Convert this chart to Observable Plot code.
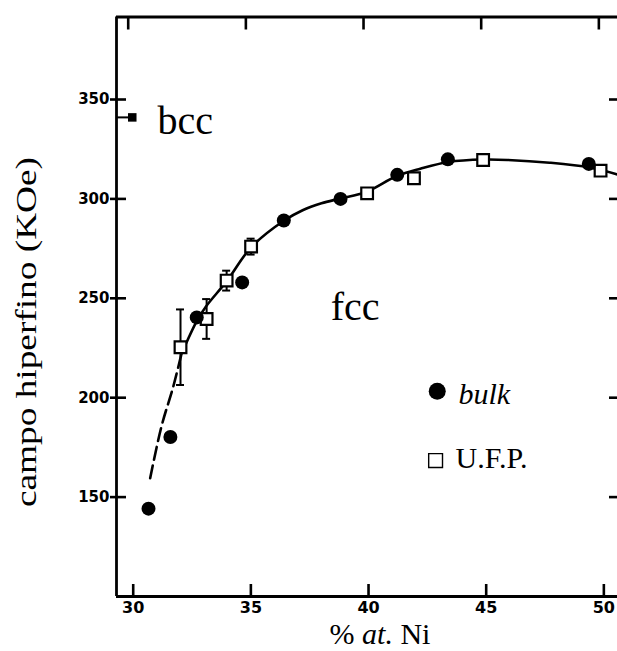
<!DOCTYPE html>
<html>
<head>
<meta charset="utf-8">
<script src="https://cdn.jsdelivr.net/npm/d3@7"></script>
<script src="https://cdn.jsdelivr.net/npm/@observablehq/plot@0.6"></script>
<style>
  body { margin: 0; background: #fff; }
  svg { display: block; }
</style>
</head>
<body>
<div id="chart"></div>
<script>
// Hyperfine field of Fe–Ni alloys versus nickel content

// bulk samples (filled circles)
const bulkNi    = [30.65, 31.58, 32.7, 34.63, 36.4, 38.81, 41.22, 43.37, 49.36];
const bulkField = [144.2, 180.2, 240.4, 258.0, 289.1, 300.0, 312.1, 319.9, 317.6];

// ultra-fine particles (open squares) with error half-widths
const ufpNi     = [32.01, 33.12, 33.97, 35.01, 39.94, 41.93, 44.87, 49.86];
const ufpField  = [225.4, 239.6, 258.9, 276.0, 302.8, 310.4, 319.6, 314.2];
const ufpError  = [19, 10, 5, 4, 0, 0, 0, 0];

// guide curve: dashed low-Ni part, solid part
const fitDashNi    = [30.72, 31.2, 31.7, 32.05];
const fitDashField = [159.5, 185.5, 205.5, 222];
const fitNi    = [32.05, 32.7, 33.1, 34.0, 35.0, 36.4, 37.2, 38.0, 38.8, 39.9, 41.2, 42.2, 43.4, 44.9, 45.9, 47.7, 49.4, 50.58];
const fitField = [222, 238.5, 246, 259, 275.5, 289, 294.3, 297.8, 300.2, 303.5, 311.5, 315.2, 318.6, 319.8, 319.6, 318.2, 315.8, 312.3];

// bcc reference value
const bccNi = [29.96];
const bccField = [341];

// axes
const xDomain = [29.29, 50.58];
const yDomain = [100, 391.5];
const xTicks = [30, 35, 40, 45, 50];
const yTicks = [150, 200, 250, 300, 350];

// annotation anchors (data units)
const phaseLabels = [
  {text: "bcc", x: 31.03, y: 332.8},
  {text: "fcc", x: 38.39, y: 239.3}
];
const legendBulk = [{text: "bulk", x: 42.92, y: 203.2, tx: 43.82, ty: 197.0}];
const legendUfp  = [{text: "U.F.P.", x: 42.85, y: 168.4, tx: 43.70, ty: 164.8}];

const bulk = bulkNi.map((x, i) => ({x, y: bulkField[i]}));
const ufp = ufpNi.map((x, i) => ({x, y: ufpField[i], e: ufpError[i]}));
const ufpBars = ufp.filter(d => d.e > 0);
const fitDash = fitDashNi.map((x, i) => ({x, y: fitDashField[i]}));
const fit = fitNi.map((x, i) => ({x, y: fitField[i]}));
const bcc = bccNi.map((x, i) => ({x, y: bccField[i]}));

const serif = "'Liberation Serif', 'Times New Roman', serif";
const tickFont = "'DejaVu Sans', sans-serif";
const lw = 2.6;

const chart = Plot.plot({
  width: 617,
  height: 651,
  marginLeft: 116,
  marginRight: 0,
  marginTop: 16.5,
  marginBottom: 55,
  x: {domain: xDomain},
  y: {domain: yDomain},
  style: {background: "#fff", color: "#000", fontFamily: tickFont},
  marks: [
    // frame (left, top, bottom)
    Plot.ruleX([xDomain[0]], {stroke: "#000", strokeWidth: 2.8}),
    Plot.ruleY([yDomain[0]], {stroke: "#000", strokeWidth: 2.8}),
    Plot.ruleY([yDomain[1]], {stroke: "#000", strokeWidth: 2.8}),

    // y axis: labels with short outward tick, plus inward tick
    Plot.axisY({ticks: yTicks, tickSize: 6, tickPadding: 1, label: null, fontSize: 15, fontWeight: "bold", strokeWidth: lw}),
    Plot.axisY({ticks: yTicks, tickSize: -10, text: null, label: null, strokeWidth: lw}),
    Plot.axisY({anchor: "right", ticks: yTicks, tickSize: -9, text: null, label: null, strokeWidth: lw}),

    // x axis: labels below, inward ticks bottom and top
    Plot.axisX({ticks: xTicks, tickSize: 0, tickPadding: 5, label: null, fontSize: 16, fontWeight: "bold"}),
    Plot.axisX({ticks: xTicks, tickSize: -12, text: null, label: null, strokeWidth: lw}),
    Plot.axisX({anchor: "top", ticks: xTicks, tickSize: -12, text: null, label: null, strokeWidth: lw, dx: -5}),

    // guide curve
    Plot.line(fitDash, {x: "x", y: "y", curve: "catmull-rom", stroke: "#000", strokeWidth: lw, strokeDasharray: "13,6"}),
    Plot.line(fit, {x: "x", y: "y", curve: "catmull-rom", stroke: "#000", strokeWidth: lw}),

    // bcc point with leader to axis
    Plot.ruleY(bcc, {y: "y", x1: xDomain[0], x2: "x", stroke: "#000", strokeWidth: 2}),
    Plot.dot(bcc, {x: "x", y: "y", symbol: "square", r: 4.8, fill: "#000", stroke: null}),

    // error bars
    Plot.ruleX(ufpBars, {x: "x", y1: d => d.y - d.e, y2: d => d.y + d.e, stroke: "#000", strokeWidth: 2}),
    Plot.ruleY(ufpBars, {y: d => d.y + d.e, x1: "x", x2: "x", insetLeft: -4, insetRight: -4, stroke: "#000", strokeWidth: 2}),
    Plot.ruleY(ufpBars, {y: d => d.y - d.e, x1: "x", x2: "x", insetLeft: -4, insetRight: -4, stroke: "#000", strokeWidth: 2}),

    // data
    Plot.dot(ufp, {x: "x", y: "y", symbol: "square", r: 6.6, fill: "#fff", stroke: "#000", strokeWidth: 2.2}),
    Plot.dot(bulk, {x: "x", y: "y", symbol: "circle", r: 7, fill: "#000", stroke: null}),

    // phase labels
    Plot.text(phaseLabels, {x: "x", y: "y", text: "text", textAnchor: "start", lineAnchor: "bottom", fontSize: 40, fontFamily: serif, fill: "#000"}),

    // legend
    Plot.dot(legendBulk, {x: "x", y: "y", symbol: "circle", r: 8.5, fill: "#000", stroke: null}),
    Plot.dot(legendUfp, {x: "x", y: "y", symbol: "square", r: 7.8, fill: "#fff", stroke: "#000", strokeWidth: 1.4}),
    Plot.text(legendBulk, {x: "tx", y: "ty", text: "text", textAnchor: "start", lineAnchor: "bottom", fontSize: 30, fontStyle: "italic", fontFamily: serif, fill: "#000"}),
    Plot.text(legendUfp, {x: "tx", y: "ty", text: "text", textAnchor: "start", lineAnchor: "bottom", fontSize: 30, fontFamily: serif, fill: "#000"})
  ]
});

const svg = d3.select(chart);

// axis titles
const xt = svg.append("text")
  .attr("x", 380).attr("y", 644)
  .attr("text-anchor", "middle")
  .attr("font-family", serif).attr("font-size", 30).attr("fill", "#000");
xt.append("tspan").text("% ");
xt.append("tspan").attr("font-style", "italic").text("at.");
xt.append("tspan").text(" Ni");

svg.append("text")
  .attr("transform", "translate(36,332) rotate(-90)")
  .attr("text-anchor", "middle")
  .attr("font-family", serif).attr("font-size", 29).attr("fill", "#000")
  .attr("textLength", 350).attr("lengthAdjust", "spacingAndGlyphs")
  .text("campo hiperfino (KOe)");

document.getElementById("chart").append(chart);
</script>
</body>
</html>
